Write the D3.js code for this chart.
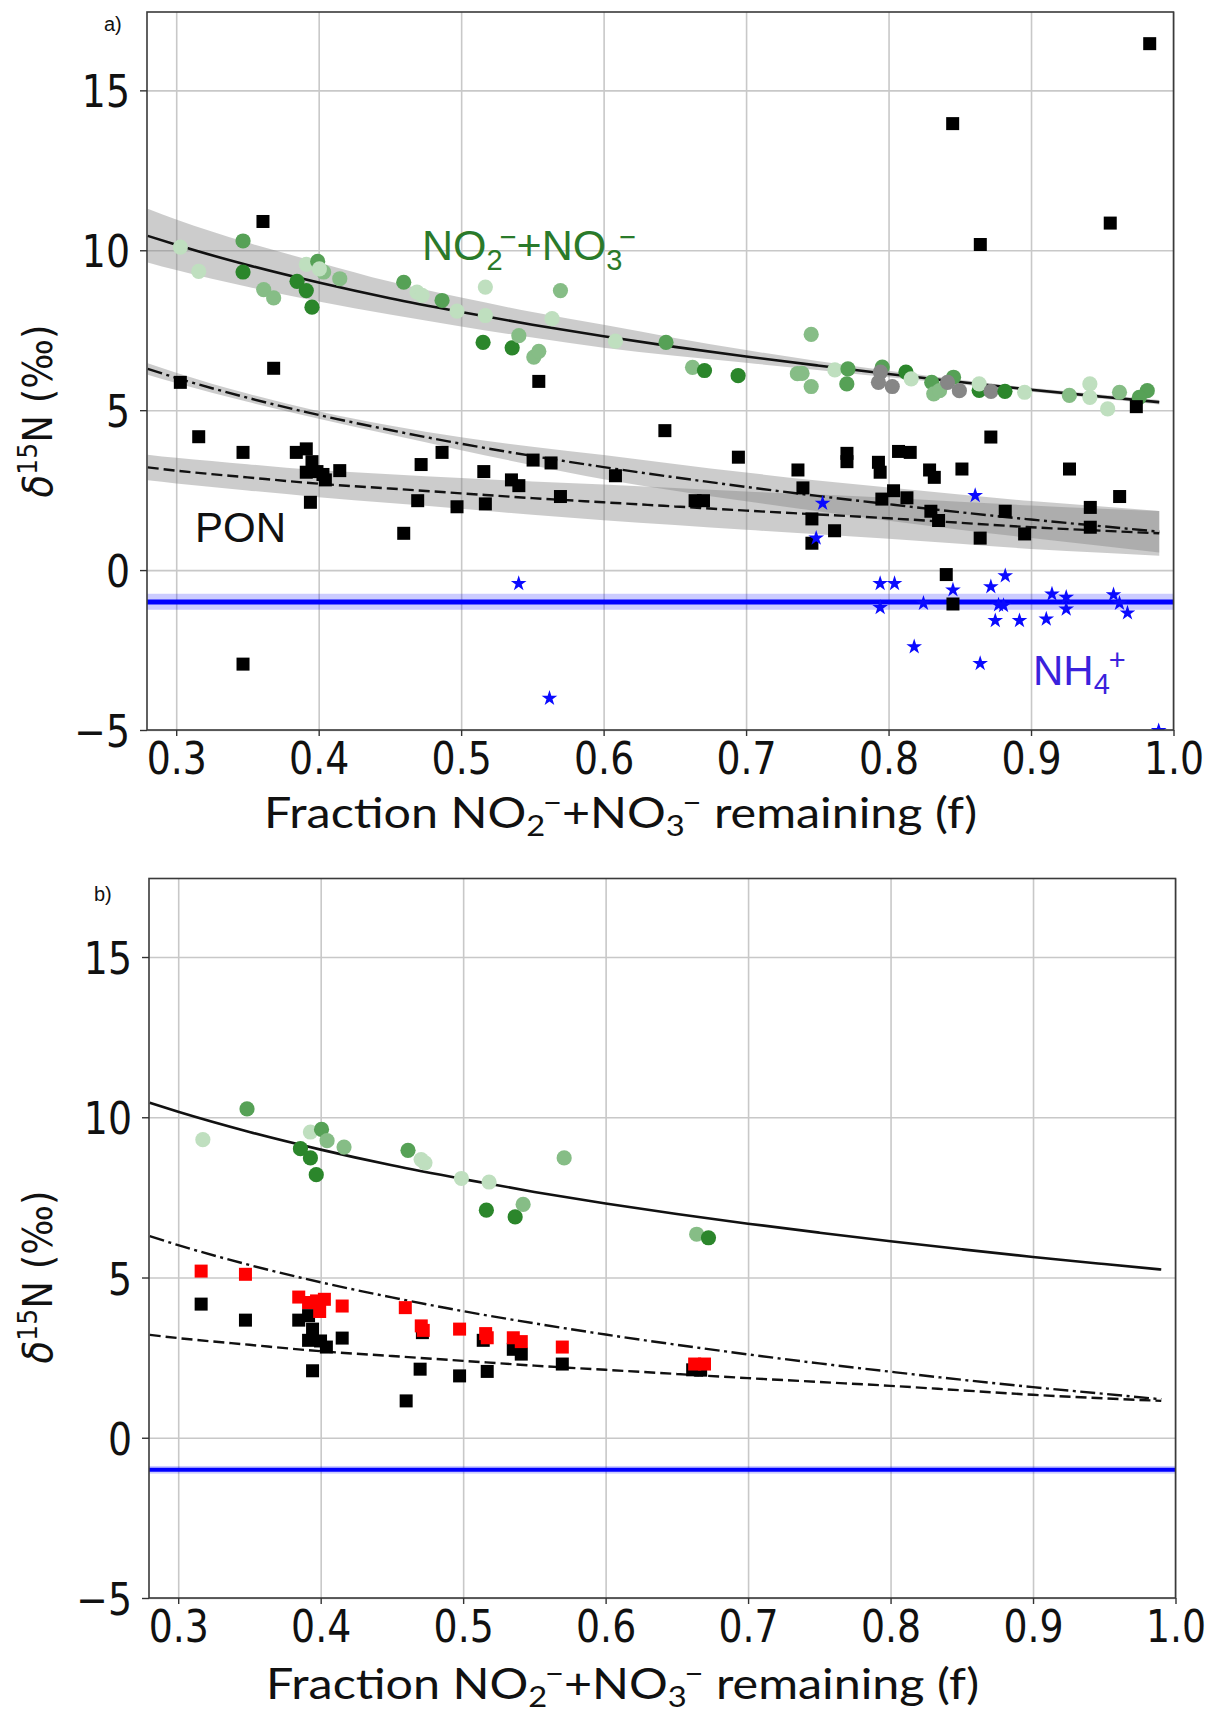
<!DOCTYPE html>
<html><head><meta charset="utf-8">
<script src="https://cdn.jsdelivr.net/npm/d3@7"></script>
<style>body{margin:0;background:#fff}</style>
</head><body>
<svg id="chart" width="1217" height="1716" xmlns="http://www.w3.org/2000/svg"></svg>
<script>
// ---------------- DATA ----------------
const xTickValues = [0.3,0.4,0.5,0.6,0.7,0.8,0.9,1.0];
const xTickLabels = ['0.3','0.4','0.5','0.6','0.7','0.8','0.9','1.0'];
const yTickValues = [-5,0,5,10,15];
const yTickLabels = ['\u22125','0','5','10','15'];

// fitted curves (at these f values)
const fitF          = [0.28,0.30,0.35,0.40,0.45,0.50,0.55,0.60,0.65,0.70,0.75,0.80,0.85,0.90,0.95,0.99];
const nitrateFit    = [10.45,10.17,9.54,8.99,8.50,8.07,7.67,7.31,6.98,6.68,6.40,6.13,5.88,5.64,5.42,5.25];
const nitrateFitLo  = [9.62,9.38,8.86,8.40,7.99,7.62,7.27,6.95,6.70,6.48,6.26,6.03,5.81,5.58,5.36,5.18];
const nitrateFitHi  = [11.30,10.96,10.24,9.62,9.02,8.52,8.07,7.67,7.26,6.88,6.54,6.23,5.95,5.70,5.48,5.32];
const ponDashDot    = [6.29,6.01,5.39,4.85,4.38,3.95,3.57,3.22,2.90,2.60,2.32,2.06,1.81,1.58,1.37,1.20];
const ponDashDotLo  = [6.11,5.85,5.26,4.73,4.24,3.75,3.28,2.84,2.48,2.15,1.84,1.54,1.26,1.00,0.75,0.55];
const ponDashDotHi  = [6.47,6.17,5.52,4.97,4.52,4.15,3.86,3.60,3.32,3.05,2.80,2.58,2.36,2.16,1.99,1.85];
const ponDashed     = [3.21,3.11,2.90,2.70,2.55,2.40,2.25,2.12,1.99,1.86,1.74,1.62,1.48,1.34,1.23,1.15];
const ponDashedLo   = [2.81,2.71,2.49,2.28,2.10,1.92,1.73,1.56,1.41,1.26,1.12,0.98,0.82,0.66,0.54,0.45];
const ponDashedHi   = [3.61,3.51,3.31,3.12,3.00,2.88,2.77,2.68,2.57,2.46,2.36,2.26,2.14,2.02,1.92,1.85];
const ammoniumMean  = -1.0;
const ammoniumBandA = [-1.24,-0.74];
const ammoniumBandB = [-1.12,-0.88];

// panel a: NO2-+NO3- circles [f, d15N, shade group]
const nitrateA = [
 [0.3029,10.10,3],[0.3158,9.34,3],[0.3469,10.29,1],[0.3469,9.32,0],[0.3614,8.77,2],[0.3684,8.51,2],
 [0.3848,9.03,0],[0.3913,8.74,0],[0.3953,8.22,0],[0.3913,9.56,3],[0.3993,9.65,1],[0.4035,9.32,2],
 [0.4005,9.42,3],[0.4148,9.11,2],[0.4597,9.00,1],[0.4690,8.69,3],[0.4726,8.59,3],[0.4866,8.43,1],
 [0.4971,8.10,3],[0.5170,8.85,3],[0.5170,7.96,3],[0.5154,7.12,0],[0.5358,6.95,0],[0.5405,7.33,2],
 [0.5510,6.66,2],[0.5545,6.84,2],[0.5697,8.74,2],[0.5638,7.86,3],[0.6083,7.16,3],[0.6438,7.12,1],
 [0.6624,6.34,2],[0.6708,6.24,0],[0.6944,6.08,0],[0.7360,6.14,2],[0.7393,6.15,2],[0.7457,5.74,2],
 [0.7457,7.37,2],[0.7623,6.26,3],[0.7715,6.29,1],[0.7707,5.82,1],[0.7956,6.35,1],[0.7943,6.19,4],
 [0.7929,5.87,4],[0.8026,5.74,4],[0.8122,6.19,0],[0.8159,5.98,3],[0.8303,5.87,1],[0.8317,5.51,2],
 [0.8358,5.61,2],[0.8456,6.03,1],[0.8414,5.87,4],[0.8497,5.61,4],[0.8636,5.62,0],[0.8636,5.82,3],
 [0.8719,5.59,4],[0.8817,5.59,0],[0.8955,5.56,3],[0.9269,5.46,2],[0.9413,5.82,3],[0.9413,5.40,3],
 [0.9538,5.04,3],[0.9621,5.56,2],[0.9816,5.61,1],[0.9760,5.40,1]
];
// panel a: PON squares [f, d15N]
const ponA = [
 [0.3029,5.87],[0.3158,4.17],[0.3469,3.68],[0.3469,-2.94],[0.3609,10.90],[0.3684,6.31],[0.3843,3.68],
 [0.3913,3.79],[0.3953,3.39],[0.3913,3.06],[0.3988,3.08],[0.4030,2.99],[0.4047,2.82],[0.4148,3.11],
 [0.3942,2.12],[0.4597,1.15],[0.4695,2.17],[0.4719,3.30],[0.4866,3.68],[0.4971,1.98],[0.5159,3.08],
 [0.5170,2.07],[0.5353,2.82],[0.5405,2.64],[0.5505,3.44],[0.5545,5.90],[0.5631,3.35],[0.5697,2.30],
 [0.6083,2.95],[0.6430,4.36],[0.6642,2.17],[0.6701,2.17],[0.6946,3.53],[0.7364,3.13],[0.7399,2.57],
 [0.7462,1.60],[0.7462,0.84],[0.7621,1.23],[0.7708,3.65],[0.7708,3.39],[0.7929,3.37],[0.7941,3.06],
 [0.7953,2.22],[0.8035,2.48],[0.8070,3.71],[0.8129,2.26],[0.8152,3.68],[0.8288,3.13],[0.8297,1.84],
 [0.8321,2.90],[0.8351,1.55],[0.8405,-0.14],[0.8450,13.96],[0.8452,-1.06],[0.8515,3.16],[0.8643,1.00],
 [0.8644,10.18],[0.8718,4.16],[0.8819,1.84],[0.8955,1.13],[0.9270,3.16],[0.9416,1.96],[0.9416,1.34],
 [0.9556,10.85],[0.9622,2.30],[0.9739,5.11],[0.9833,16.46]
];
// panel a: NH4+ stars [f, d15N]
const ammoniumA = [
 [0.5404,-0.42],[0.5620,-4.01],[0.7492,1.00],[0.7537,2.09],[0.7941,-0.42],[0.7941,-1.17],[0.8042,-0.42],
 [0.8180,-2.40],[0.8245,-1.04],[0.8452,-0.62],[0.8608,2.33],[0.8643,-2.92],[0.8718,-0.52],[0.8749,-1.58],
 [0.8772,-1.09],[0.8807,-1.11],[0.8819,-0.18],[0.8919,-1.58],[0.9107,-1.53],[0.9147,-0.75],[0.9247,-0.85],
 [0.9247,-1.22],[0.9579,-0.77],[0.9621,-1.04],[0.9677,-1.34],[0.9896,-5.02]
];
// panel b
const nitrateB = [
 [0.3173,9.30,3],[0.3483,10.26,1],[0.3858,9.02,0],[0.3928,8.73,0],[0.3969,8.21,0],[0.3928,9.54,3],
 [0.4006,9.62,1],[0.4045,9.27,2],[0.4164,9.07,2],[0.4613,8.97,1],[0.4705,8.68,3],[0.4732,8.58,3],
 [0.4988,8.09,3],[0.5182,7.98,3],[0.5163,7.10,0],[0.5365,6.89,0],[0.5421,7.28,2],[0.5709,8.73,2],
 [0.6639,6.35,2],[0.6722,6.24,0]
];
const ponB = [
 [0.3161,4.17],[0.3472,3.67],[0.3846,3.67],[0.3915,3.81],[0.3943,3.39],[0.3915,3.04],[0.3999,3.02],
 [0.4040,2.83],[0.4151,3.11],[0.3943,2.09],[0.4600,1.15],[0.4698,2.14],[0.4714,3.28],[0.4975,1.93],
 [0.5169,2.07],[0.5141,3.04],[0.5352,2.76],[0.5408,2.61],[0.5696,2.30],[0.6611,2.12],[0.6667,2.11]
];
const ponCorrectedB = [
 [0.3161,5.20],[0.3472,5.10],[0.3846,4.39],[0.3915,4.22],[0.3971,4.27],[0.4026,4.32],[0.3993,3.94],
 [0.4151,4.11],[0.4594,4.06],[0.4706,3.49],[0.4720,3.35],[0.4975,3.39],[0.5158,3.25],[0.5169,3.12],
 [0.5352,3.12],[0.5408,3.00],[0.5696,2.83],[0.6625,2.30],[0.6694,2.30]
];

// ---------------- STYLE ----------------
const shadeColors = ['#2b862b','#56a156','#86bd86','#bfdfbf','#868686'];
const tickFont = 'DejaVu Sans';
const annoFont = 'Liberation Sans, Arial, sans-serif';

const svg = d3.select('#chart');

function fitWidth(sel, target) {
  const w = sel.node().getComputedTextLength();
  return target / w;
}

function drawPanel(cfg) {
  const g = svg.append('g');
  const x = d3.scaleLinear().domain([0.2795, 1.0]).range([cfg.left, cfg.right]);
  const y = d3.scaleLinear().domain([-5, 17.45]).range([cfg.bottom, cfg.top]);
  const clipId = 'clip' + cfg.id;
  svg.append('clipPath').attr('id', clipId).append('rect')
     .attr('x', cfg.left).attr('y', cfg.top).attr('width', cfg.right - cfg.left).attr('height', cfg.bottom - cfg.top);

  // grid
  g.append('g').attr('transform', `translate(0,${cfg.bottom})`)
   .call(d3.axisBottom(x).tickValues(xTickValues).tickSize(-(cfg.bottom - cfg.top)).tickFormat(''))
   .call(s => { s.select('.domain').remove(); s.selectAll('line').attr('stroke', '#c8c8c8').attr('stroke-width', 1.6); });
  g.append('g').attr('transform', `translate(${cfg.left},0)`)
   .call(d3.axisLeft(y).tickValues(yTickValues).tickSize(-(cfg.right - cfg.left)).tickFormat(''))
   .call(s => { s.select('.domain').remove(); s.selectAll('line').attr('stroke', '#c8c8c8').attr('stroke-width', 1.6); });

  const plot = g.append('g').attr('clip-path', `url(#${clipId})`);
  const idx = fitF.map((f, i) => i);

  // confidence bands
  if (cfg.bands) {
    const area = (lo, hi) => d3.area().x(i => x(fitF[i])).y0(i => y(lo[i])).y1(i => y(hi[i])).curve(d3.curveMonotoneX);
    plot.append('path').attr('d', area(nitrateFitLo, nitrateFitHi)(idx)).attr('fill', '#808080').attr('fill-opacity', 0.4);
    plot.append('path').attr('d', area(ponDashedLo, ponDashedHi)(idx)).attr('fill', '#808080').attr('fill-opacity', 0.4);
    plot.append('path').attr('d', area(ponDashDotLo, ponDashDotHi)(idx)).attr('fill', '#808080').attr('fill-opacity', 0.4);
  }
  // ammonium mean and band
  plot.append('rect').attr('x', cfg.left).attr('width', cfg.right - cfg.left)
      .attr('y', y(cfg.nhBand[1])).attr('height', y(cfg.nhBand[0]) - y(cfg.nhBand[1]))
      .attr('fill', '#0000ff').attr('fill-opacity', 0.2);
  plot.append('line').attr('x1', cfg.left).attr('x2', cfg.right).attr('y1', y(ammoniumMean)).attr('y2', y(ammoniumMean))
      .attr('stroke', '#0000ff').attr('stroke-width', cfg.nhWidth);

  // fit lines
  const line = vals => d3.line().x(i => x(fitF[i])).y(i => y(vals[i])).curve(d3.curveMonotoneX)(idx);
  plot.append('path').attr('d', line(ponDashed)).attr('fill', 'none').attr('stroke', '#111').attr('stroke-width', 2.4).attr('stroke-dasharray', '11,5');
  plot.append('path').attr('d', line(ponDashDot)).attr('fill', 'none').attr('stroke', '#111').attr('stroke-width', 2.4).attr('stroke-dasharray', '15,4.5,3,4.5');
  plot.append('path').attr('d', line(nitrateFit)).attr('fill', 'none').attr('stroke', '#111').attr('stroke-width', 2.6);

  // markers
  plot.append('g').selectAll('circle').data(cfg.circles).join('circle')
      .attr('cx', d => x(d[0])).attr('cy', d => y(d[1])).attr('r', 7.6)
      .attr('fill', d => shadeColors[d[2]]);
  const sq = 13;
  plot.append('g').selectAll('rect').data(cfg.squares).join('rect')
      .attr('x', d => x(d[0]) - sq / 2).attr('y', d => y(d[1]) - sq / 2).attr('width', sq).attr('height', sq)
      .attr('fill', '#000');
  if (cfg.red) {
    plot.append('g').selectAll('rect').data(cfg.red).join('rect')
        .attr('x', d => x(d[0]) - sq / 2).attr('y', d => y(d[1]) - sq / 2).attr('width', sq).attr('height', sq)
        .attr('fill', '#ff0000');
  }
  if (cfg.stars) {
    const star = d3.symbol().type(d3.symbolStar).size(76);
    plot.append('g').selectAll('path').data(cfg.stars).join('path')
        .attr('transform', d => `translate(${x(d[0])},${y(d[1])})`).attr('d', star).attr('fill', '#0a0aff');
  }

  // frame
  g.append('rect').attr('x', cfg.left).attr('y', cfg.top).attr('width', cfg.right - cfg.left).attr('height', cfg.bottom - cfg.top)
   .attr('fill', 'none').attr('stroke', '#3a3a3a').attr('stroke-width', 1.6);

  // axes with tick labels
  const xs = 0.86;
  g.append('g').attr('transform', `translate(0,${cfg.bottom})`)
   .call(d3.axisBottom(x).tickValues(xTickValues).tickSize(6).tickFormat((d, i) => xTickLabels[i]))
   .call(s => {
     s.select('.domain').remove();
     s.selectAll('line').attr('stroke', '#333').attr('stroke-width', 1.4);
     s.selectAll('text').attr('font-family', tickFont).attr('font-size', 44).attr('fill', '#111')
      .attr('dy', null).attr('y', 0).attr('transform', `translate(0,${cfg.xtickDy}) scale(${xs},1)`);
   });
  g.append('g').attr('transform', `translate(${cfg.left},0)`)
   .call(d3.axisLeft(y).tickValues(yTickValues).tickSize(7).tickFormat((d, i) => yTickLabels[i]))
   .call(s => {
     s.select('.domain').remove();
     s.selectAll('line').attr('stroke', '#333').attr('stroke-width', 1.4);
     s.selectAll('text').attr('font-family', tickFont).attr('font-size', 44).attr('fill', '#111')
      .attr('dy', null).attr('x', 0).attr('y', 0).attr('transform', `translate(-17,16.5) scale(${xs},1)`);
   });

  // x-axis label
  const xl = g.append('text').attr('font-family', 'Lato, Open Sans, sans-serif').attr('font-size', 43).attr('fill', '#111')
    .attr('x', 0).attr('y', 0);
  xl.append('tspan').text('Fraction NO');
  xl.append('tspan').attr('font-size', 29).attr('dy', 8).text('2');
  xl.append('tspan').attr('font-size', 29).attr('dy', -23).attr('dx', -2).text('\u2212');
  xl.append('tspan').attr('dy', 15).text('+NO');
  xl.append('tspan').attr('font-size', 29).attr('dy', 8).text('3');
  xl.append('tspan').attr('font-size', 29).attr('dy', -23).attr('dx', -2).text('\u2212');
  xl.append('tspan').attr('dy', 15).text(' remaining (f)');
  const kx = fitWidth(xl, 718);
  xl.attr('transform', `translate(${cfg.xlabelX},${cfg.xlabelY}) scale(${kx},1)`);

  // y-axis label
  const yl = g.append('text').attr('font-family', tickFont).attr('font-size', 40).attr('fill', '#111')
    .attr('x', 0).attr('y', 0).attr('text-anchor', 'middle');
  yl.append('tspan').attr('font-style', 'italic').text('\u03b4');
  yl.append('tspan').attr('font-size', 27).attr('dy', -15).text('15');
  yl.append('tspan').attr('dy', 15).text('N (\u2030)');
  const ky = fitWidth(yl, 173);
  yl.attr('transform', `translate(${cfg.ylabelX},${cfg.ylabelY}) rotate(-90) scale(${ky},1)`);

  // panel tag
  g.append('text').attr('font-family', annoFont).attr('font-size', 20).attr('fill', '#111')
   .attr('x', cfg.tagX).attr('y', cfg.tagY).text(cfg.tag);

  return {g, x, y};
}

const pa = drawPanel({
  id: 'a', left: 147, right: 1173.5, top: 12, bottom: 730,
  bands: true, nhBand: ammoniumBandA, nhWidth: 5,
  circles: nitrateA, squares: ponA, stars: ammoniumA, xtickDy: 44,
  xlabelX: 264, xlabelY: 828, ylabelX: 52, ylabelY: 411, tag: 'a)', tagX: 104, tagY: 31
});
const pb = drawPanel({
  id: 'b', left: 149, right: 1175.5, top: 878.5, bottom: 1598,
  bands: false, nhBand: ammoniumBandB, nhWidth: 4,
  circles: nitrateB, squares: ponB, red: ponCorrectedB, xtickDy: 44,
  xlabelX: 266, xlabelY: 1699, ylabelX: 52, ylabelY: 1277, tag: 'b)', tagX: 94, tagY: 901
});

// annotations (panel a)
const no = pa.g.append('text').attr('font-family', annoFont).attr('font-size', 43).attr('fill', '#2a7a2a')
  .attr('x', 422).attr('y', 260);
no.append('tspan').text('NO');
no.append('tspan').attr('font-size', 29).attr('dy', 10).text('2');
no.append('tspan').attr('font-size', 29).attr('dy', -23).attr('dx', -3).text('\u2212');
no.append('tspan').attr('dy', 13).text('+NO');
no.append('tspan').attr('font-size', 29).attr('dy', 10).text('3');
no.append('tspan').attr('font-size', 29).attr('dy', -23).attr('dx', -3).text('\u2212');

pa.g.append('text').attr('font-family', annoFont).attr('font-size', 42).attr('fill', '#111')
  .attr('x', 195).attr('y', 542).text('PON');

const nh = pa.g.append('text').attr('font-family', annoFont).attr('font-size', 42).attr('fill', '#3a22dc')
  .attr('x', 1033).attr('y', 685);
nh.append('tspan').text('NH');
nh.append('tspan').attr('font-size', 29).attr('dy', 9).text('4');
nh.append('tspan').attr('font-size', 29).attr('dy', -24).attr('dx', -1).text('+');
</script>
</body></html>
